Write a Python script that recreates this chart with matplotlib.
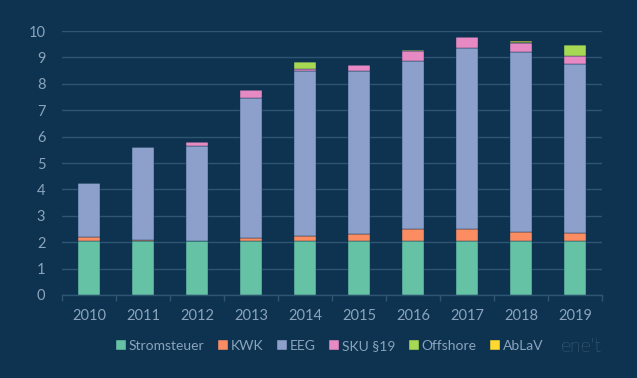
import matplotlib
matplotlib.use('agg')

import numpy as np
import matplotlib.pyplot as plt

years = ['2010', '2011', '2012', '2013', '2014', '2015', '2016', '2017', '2018', '2019']
stromsteuer = [2.05, 2.05, 2.05, 2.05, 2.05, 2.05, 2.05, 2.05, 2.05, 2.05]
kwk = [0.13, 0.03, 0.002, 0.126, 0.178, 0.254, 0.445, 0.438, 0.345, 0.28]
eeg = [2.047, 3.53, 3.592, 5.277, 6.24, 6.17, 6.354, 6.88, 6.792, 6.405]
sku19 = [0.0, 0.0, 0.151, 0.329, 0.092, 0.237, 0.378, 0.388, 0.37, 0.305]
offshore = [0.0, 0.0, 0.0, 0.0, 0.25, 0.0, 0.04, 0.0, 0.037, 0.416]
ablav = [0.0, 0.0, 0.0, 0.0, 0.009, 0.006, 0.002, 0.006, 0.011, 0.005]

series = [
  ('Stromsteuer', stromsteuer, '#66c2a5'),
  ('KWK', kwk, '#fc8d62'),
  ('EEG', eeg, '#8da0cb'),
  ('SKU §19', sku19, '#e78ac3'),
  ('Offshore', offshore, '#a6d854'),
  ('AbLaV', ablav, '#ffd92f'),
]

plt.rcParams['font.family'] = ['Lato', 'DejaVu Sans']

bg = '#0d3350'
txt = '#8ba4bc'
grid = '#2e5672'

fig = plt.figure(figsize=(6.37, 3.78), dpi=100, facecolor=bg)
ax = fig.add_axes([62 / 637, 1 - 295 / 378, 540 / 637, 264 / 378])
ax.set_facecolor(bg)

x = np.arange(len(years))
bottom = np.zeros(len(years))
for name, vals, col in series:
  ax.bar(x, vals, 0.39, bottom=bottom, color=col, label=name,
         edgecolor=bg, linewidth=0.3, zorder=3)
  bottom += np.array(vals)

ax.set_xlim(-0.5, len(years) - 0.5)
ax.set_ylim(0, 10)
ax.set_yticks(range(0, 11))
ax.yaxis.grid(True, color=grid, linewidth=1.0, zorder=0)
ax.set_xticks(x)
ax.set_xticklabels(years)
ax.set_xticks(np.arange(-0.5, len(years)), minor=True)
ax.tick_params(axis='x', which='major', length=0, pad=10, labelsize=10.5, labelcolor=txt)
ax.tick_params(axis='x', which='minor', length=4, color=grid, width=1)
ax.tick_params(axis='y', length=0, pad=12, labelsize=10.5, labelcolor=txt)
for s in ['top', 'right', 'left']:
  ax.spines[s].set_visible(False)
ax.spines['bottom'].set_color(grid)
ax.spines['bottom'].set_linewidth(1)

leg = fig.legend(loc='center left', bbox_to_anchor=(116 / 637, 1 - 346 / 378), ncol=6,
                 frameon=False, fontsize=10, handlelength=0.7, handleheight=0.7,
                 handletextpad=0.2, columnspacing=1.0, labelcolor=txt,
                 borderpad=0, borderaxespad=0)

fig.text(0.945, 1 - 347 / 378, "ene't", color='#7890a8', fontsize=14,
         ha='right', va='center', fontweight='light')

plt.savefig('out.png', dpi=100, facecolor=bg)
